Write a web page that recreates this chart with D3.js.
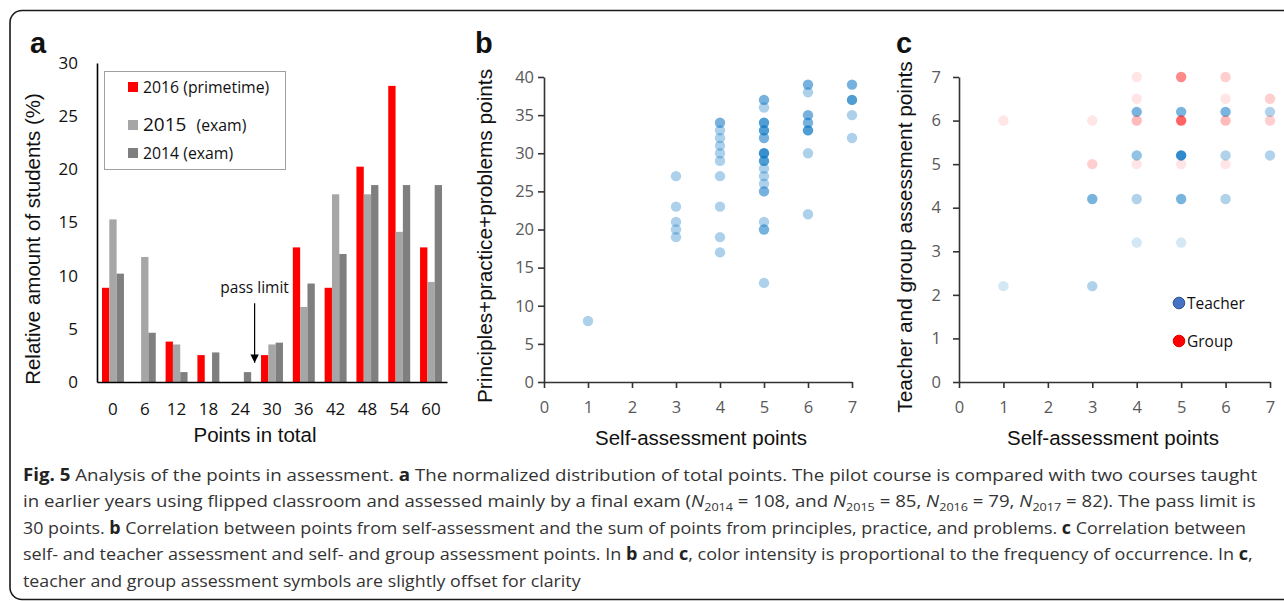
<!DOCTYPE html>
<html><head><meta charset="utf-8">
<script src="https://cdn.jsdelivr.net/npm/d3@7"></script>
<style>body{margin:0;background:#fff} svg{display:block}</style>
</head><body>
<svg id="fig" width="1284" height="601"></svg>
<script>
// ---------- Panel a data ----------
const categories = ["0","6","12","18","24","30","36","42","48","54","60"];
const seriesNames = ["2016 (primetime)", "2015", "2014 (exam)"];
const v2016 = [8.86, 0, 3.80, 2.53, 0, 2.53, 12.66, 8.86, 20.25, 27.85, 12.66];
const v2015 = [15.29, 11.76, 3.53, 0, 0, 3.53, 7.06, 17.65, 17.65, 14.12, 9.41];
const v2014 = [10.19, 4.63, 0.93, 2.78, 0.93, 3.70, 9.26, 12.04, 18.52, 18.52, 18.52];
const yTicksA = [0, 5, 10, 15, 20, 25, 30];

// ---------- Panel b data ----------
const bSelf  = [1, 3,3,3,3,3, 4,4,4,4,4,4,4,4,4,4, 5,5,5,5,5,5,5,5,5,5,5,5,5,5, 6,6,6,6,6,6,6, 7,7,7,7];
const bSum   = [8, 27,23,21,20,19, 34,33,32,31,30,29,27,23,19,17, 37,36,34,33,32,30,29,28,27,26,25,21,20,13, 39,38,35,34,33,30,22, 39,37,35,32];
const bCount = [1, 1,1,1,1,1, 2,1,1,1,1,1,1,1,1,1, 2,1,3,3,2,4,3,1,1,1,2,1,2,1, 2,1,2,2,3,1,1, 2,3,1,1];
const xTicksBC = [0,1,2,3,4,5,6,7];
const yTicksB = [0,5,10,15,20,25,30,35,40];

// ---------- Panel c data ----------
const tSelf  = [1, 3, 3, 4, 4, 4, 4, 5, 5, 5, 5, 6, 6, 6, 7, 7];
const tScore = [2.2, 4.2, 2.2, 6.2, 5.2, 4.2, 3.2, 6.2, 5.2, 4.2, 3.2, 6.2, 5.2, 4.2, 6.2, 5.2];
const tCount = [1, 4, 2, 4, 3, 2, 1, 4, 9, 4, 1, 4, 2, 2, 2, 2];
const gSelf  = [1, 3, 3, 4, 4, 4, 4, 5, 5, 5, 6, 6, 6, 6, 7, 7];
const gScore = [6, 6, 5, 7, 6.5, 6, 5, 7, 6, 5, 7, 6.5, 6, 5, 6.5, 6];
const gCount = [1, 1, 2, 1, 1, 3, 1, 6, 9, 1, 2, 1, 3, 1, 2, 2];
const yTicksC = [0,1,2,3,4,5,6,7];

const svg = d3.select("#fig");

// outer frame
svg.append("rect").attr("x", 10).attr("y", 10.5).attr("width", 1300).attr("height", 589)
  .attr("rx", 12).attr("fill", "none").attr("stroke", "#1a1a1a").attr("stroke-width", 1.6);

// panel letters
[["a", 30], ["b", 475], ["c", 896]].forEach(([t, x]) => {
  svg.append("text").attr("x", x).attr("y", 53).text(t)
    .attr("font-family", "Liberation Sans, Arial, sans-serif").attr("font-weight", "bold")
    .attr("font-size", 29).attr("fill", "#111");
});

// ================= Panel a =================
const xa = d3.scaleBand().domain(categories).range([97, 447]).paddingInner(0.31).paddingOuter(0.157);
const xs = d3.scaleBand().domain([0, 1, 2]).range([0, xa.bandwidth()]);
const ya = d3.scaleLinear().domain([0, 30]).range([382, 63]);
const colorsA = ["#ff0000", "#a6a6a6", "#7f7f7f"];
[v2016, v2015, v2014].forEach((vals, si) => {
  svg.append("g").selectAll("rect").data(vals).join("rect")
    .attr("x", (d, i) => xa(categories[i]) + xs(si))
    .attr("y", d => ya(d))
    .attr("width", xs.bandwidth())
    .attr("height", d => ya(0) - ya(d))
    .attr("fill", colorsA[si]);
});

const gya = svg.append("g").attr("transform", "translate(97,0)")
  .call(d3.axisLeft(ya).tickValues(yTicksA).tickSize(0).tickSizeOuter(0).tickPadding(19));
const gxa = svg.append("g").attr("transform", "translate(0,382)")
  .call(d3.axisBottom(xa).tickSize(0).tickSizeOuter(0).tickPadding(21));
[gya, gxa].forEach(g => {
  g.select(".domain").attr("stroke", "#000").attr("stroke-width", 1.6);
  g.selectAll("text").attr("font-family", "Open Sans, sans-serif").attr("font-size", 17).attr("fill", "#111");
});

svg.append("text").attr("transform", "translate(40,239) rotate(-90)").attr("text-anchor", "middle")
  .attr("font-family", "Liberation Sans, Arial, sans-serif").attr("font-size", 20.5).attr("fill", "#111")
  .text("Relative amount of students (%)");
svg.append("text").attr("x", 255).attr("y", 442).attr("text-anchor", "middle")
  .attr("font-family", "Liberation Sans, Arial, sans-serif").attr("font-size", 20.5).attr("fill", "#111")
  .text("Points in total");

// legend a
svg.append("rect").attr("x", 104.5).attr("y", 71.5).attr("width", 181).attr("height", 98)
  .attr("fill", "#fff").attr("stroke", "#a0a0a0").attr("stroke-width", 1);
const legY = [93, 131, 159];
colorsA.forEach((c, i) => {
  svg.append("rect").attr("x", 128).attr("y", legY[i] - 11).attr("width", 10).attr("height", 10).attr("fill", c);
});
svg.append("text").attr("x", 143).attr("y", legY[0]).attr("font-family", "Open Sans, sans-serif")
  .attr("font-size", 15.8).attr("fill", "#111").text(seriesNames[0]);
const t15 = svg.append("text").attr("x", 143).attr("y", legY[1]).attr("font-family", "Open Sans, sans-serif").attr("fill", "#111");
t15.append("tspan").attr("font-size", 19).text(seriesNames[1]);
t15.append("tspan").attr("font-size", 15.8).attr("dx", 10).text("(exam)");
svg.append("text").attr("x", 143).attr("y", legY[2]).attr("font-family", "Open Sans, sans-serif")
  .attr("font-size", 15.8).attr("fill", "#111").text(seriesNames[2]);

// pass limit annotation
const passX = xa("30") - 0.65 * (xa.step() - xa.bandwidth());
svg.append("defs").append("marker").attr("id", "arr").attr("viewBox", "0 0 10 10")
  .attr("refX", 10).attr("refY", 5).attr("markerWidth", 7).attr("markerHeight", 7).attr("orient", "auto")
  .append("path").attr("d", "M0,0 L10,5 L0,10 z").attr("fill", "#000");
svg.append("line").attr("x1", passX).attr("x2", passX).attr("y1", ya(7.4)).attr("y2", ya(1.8))
  .attr("stroke", "#000").attr("stroke-width", 1.2).attr("marker-end", "url(#arr)");
svg.append("text").attr("x", passX).attr("y", ya(8.4)).attr("text-anchor", "middle")
  .attr("font-family", "Open Sans, sans-serif").attr("font-size", 15.5).attr("fill", "#111").text("pass limit");

// ================= helpers for b, c =================
function styleAxis(g) {
  g.select(".domain").attr("stroke", "#333").attr("stroke-width", 1.6);
  g.selectAll(".tick line").attr("stroke", "#333").attr("stroke-width", 1.6);
  g.selectAll("text").attr("font-family", "Open Sans, sans-serif").attr("font-size", 16.5).attr("fill", "#595959");
}
const op = (n, a) => 1 - Math.pow(1 - a, n);
const fmt = d3.format("d");

// ================= Panel b =================
const xb = d3.scaleLinear().domain([0, 7]).range([544, 852]);
const yb = d3.scaleLinear().domain([0, 40]).range([382, 77]);
styleAxis(svg.append("g").attr("transform", "translate(544,0)")
  .call(d3.axisLeft(yb).tickValues(yTicksB).tickFormat(fmt).tickSize(6).tickSizeOuter(0).tickPadding(4)));
styleAxis(svg.append("g").attr("transform", "translate(0,382)")
  .call(d3.axisBottom(xb).tickValues(xTicksBC).tickFormat(fmt).tickSize(6).tickSizeOuter(0).tickPadding(13)));
svg.append("g").selectAll("circle").data(bSelf).join("circle")
  .attr("cx", d => xb(d)).attr("cy", (d, i) => yb(bSum[i])).attr("r", 5.2)
  .attr("fill", "#0070c0").attr("fill-opacity", (d, i) => op(bCount[i], 0.32));
svg.append("text").attr("transform", "translate(492,236) rotate(-90)").attr("text-anchor", "middle")
  .attr("font-family", "Liberation Sans, Arial, sans-serif").attr("font-size", 20.8).attr("fill", "#111")
  .text("Principles+practice+problems points");
svg.append("text").attr("x", 701).attr("y", 445).attr("text-anchor", "middle")
  .attr("font-family", "Liberation Sans, Arial, sans-serif").attr("font-size", 20.5).attr("fill", "#111")
  .text("Self-assessment points");

// ================= Panel c =================
const xc = d3.scaleLinear().domain([0, 7]).range([959, 1270]);
const yc = d3.scaleLinear().domain([0, 7]).range([382, 77]);
styleAxis(svg.append("g").attr("transform", "translate(959,0)")
  .call(d3.axisLeft(yc).tickValues(yTicksC).tickFormat(fmt).tickSize(6).tickSizeOuter(0).tickPadding(12)));
styleAxis(svg.append("g").attr("transform", "translate(0,382)")
  .call(d3.axisBottom(xc).tickValues(xTicksBC).tickFormat(fmt).tickSize(6).tickSizeOuter(0).tickPadding(13)));
svg.append("g").selectAll("circle").data(tSelf).join("circle")
  .attr("cx", d => xc(d)).attr("cy", (d, i) => yc(tScore[i])).attr("r", 5.2)
  .attr("fill", "#0070c0").attr("fill-opacity", (d, i) => op(tCount[i], 0.17));
svg.append("g").selectAll("circle").data(gSelf).join("circle")
  .attr("cx", d => xc(d)).attr("cy", (d, i) => yc(gScore[i])).attr("r", 5.2)
  .attr("fill", "#ff0000").attr("fill-opacity", (d, i) => op(gCount[i], 0.1));
svg.append("text").attr("transform", "translate(912,237) rotate(-90)").attr("text-anchor", "middle")
  .attr("font-family", "Liberation Sans, Arial, sans-serif").attr("font-size", 20.8).attr("fill", "#111")
  .text("Teacher and group assessment points");
svg.append("text").attr("x", 1113).attr("y", 445).attr("text-anchor", "middle")
  .attr("font-family", "Liberation Sans, Arial, sans-serif").attr("font-size", 20.5).attr("fill", "#111")
  .text("Self-assessment points");
// legend c
[["Teacher", "#4472c4", "#2f528f", 303], ["Group", "#ff0000", "#e00000", 341]].forEach(([t, f, s, y]) => {
  svg.append("circle").attr("cx", 1179).attr("cy", y).attr("r", 5.8).attr("fill", f).attr("stroke", s).attr("stroke-width", 1);
  svg.append("text").attr("x", 1187).attr("y", y + 5.5).attr("font-family", "Open Sans, sans-serif")
    .attr("font-size", 15.5).attr("fill", "#111").text(t);
});

// ================= Caption =================
const capLines = [
  [["Fig. 5", "b"], [" Analysis of the points in assessment. ", ""], ["a", "b"], [" The normalized distribution of total points. The pilot course is compared with two courses taught", ""]],
  [["in earlier years using flipped classroom and assessed mainly by a final exam (", ""], ["N", "i"], ["2014", "s"], [" = 108, and ", ""], ["N", "i"], ["2015", "s"], [" = 85, ", ""], ["N", "i"], ["2016", "s"], [" = 79, ", ""], ["N", "i"], ["2017", "s"], [" = 82). The pass limit is", ""]],
  [["30 points. ", ""], ["b", "b"], [" Correlation between points from self-assessment and the sum of points from principles, practice, and problems. ", ""], ["c", "b"], [" Correlation between", ""]],
  [["self- and teacher assessment and self- and group assessment points. In ", ""], ["b", "b"], [" and ", ""], ["c", "b"], [", color intensity is proportional to the frequency of occurrence. In ", ""], ["c", "b"], [",", ""]],
  [["teacher and group assessment symbols are slightly offset for clarity", ""]]
];
const capEnds = [1258, 1256, 1247, 1254, 581];
const capX = 23;
capLines.forEach((segs, li) => {
  const y = 481 + li * 26.5;
  const t = svg.append("text").attr("x", capX).attr("y", y)
    .attr("font-family", "Open Sans, sans-serif").attr("font-size", 17).attr("fill", "#333");
  segs.forEach(([s, st]) => {
    const sp = t.append("tspan").text(s);
    if (st === "b") sp.attr("font-weight", "bold").attr("fill", "#222");
    if (st === "i") sp.attr("font-style", "italic");
    if (st === "s") { sp.attr("font-size", 11.5).attr("dy", 4); }
  });
  // restore baseline after subscripts
  t.selectAll("tspan").each(function (d, i, nodes) {
    const prev = i > 0 ? d3.select(nodes[i - 1]) : null;
    if (prev && prev.attr("dy") === "4" && d3.select(this).attr("dy") !== "4") d3.select(this).attr("dy", -4);
  });
  const w = t.node().getComputedTextLength();
  const s = (capEnds[li] - capX) / w;
  t.attr("transform", `translate(${capX},0) scale(${s},1) translate(${-capX},0)`);
});
</script>
</body></html>
